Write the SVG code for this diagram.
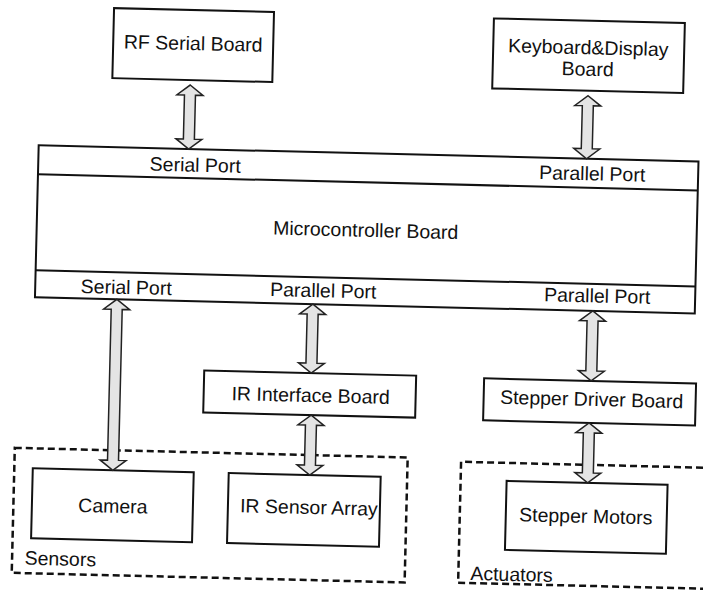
<svg xmlns="http://www.w3.org/2000/svg" width="703" height="592" viewBox="0 0 703 592">
<defs>
<style>
.box{fill:#fff;stroke:#111;stroke-width:2}
.ln{stroke:#111;stroke-width:2;fill:none}
.grp{fill:none;stroke:#111;stroke-width:2.5;stroke-dasharray:7 4}
.arr{fill:#e4e4e4;stroke:#222;stroke-width:1.5;stroke-linejoin:miter}
text{font-family:"Liberation Sans",Arial,sans-serif;font-size:19.5px;fill:#111}
.c{text-anchor:middle}
</style>
</defs>
<rect width="703" height="592" fill="#fff"/>
<g transform="rotate(1.4 350 300)">
  <g id="sensors">
    <rect class="grp" x="18.5" y="456" width="393" height="125"/>
    <text x="31" y="572.5">Sensors</text>
  </g>
  <g id="actuators">
    <path class="grp" d="M740 459 H465 V580 H740"/>
    <text x="477" y="577">Actuators</text>
  </g>
  <g id="rf-serial-board">
    <rect class="box" x="107" y="14" width="160" height="70"/>
    <text class="c" x="187" y="54">RF Serial Board</text>
  </g>
  <g id="keyboard-display-board">
    <rect class="box" x="487" y="15" width="191" height="70"/>
    <text class="c" x="582" y="48.5">Keyboard&amp;Display</text>
    <text class="c" x="582" y="70">Board</text>
  </g>
  <g id="microcontroller-board">
    <rect class="box" x="35" y="153" width="660" height="152"/>
    <line class="ln" x1="35" y1="182" x2="695" y2="182"/>
    <line class="ln" x1="35" y1="278" x2="695" y2="278"/>
    <text class="c" x="192" y="175.5">Serial Port</text>
    <text class="c" x="589" y="174.5">Parallel Port</text>
    <text class="c" x="364" y="236.5">Microcontroller Board</text>
    <text class="c" x="126" y="299.5">Serial Port</text>
    <text class="c" x="323" y="298">Parallel Port</text>
    <text class="c" x="597" y="296.5">Parallel Port</text>
  </g>
  <g id="ir-interface-board">
    <rect class="box" x="206" y="374" width="212" height="42"/>
    <text class="c" x="313" y="403">IR Interface Board</text>
  </g>
  <g id="stepper-driver-board">
    <rect class="box" x="486" y="375" width="212" height="42"/>
    <text class="c" x="594" y="400">Stepper Driver Board</text>
  </g>
  <g id="camera">
    <rect class="box" x="37" y="476" width="161" height="70"/>
    <text class="c" x="118" y="518.5">Camera</text>
  </g>
  <g id="ir-sensor-array">
    <rect class="box" x="233" y="476" width="152" height="70"/>
    <text class="c" x="314" y="515">IR Sensor Array</text>
  </g>
  <g id="stepper-motors">
    <rect class="box" x="511" y="477" width="161" height="69"/>
    <text class="c" x="591" y="517">Stepper Motors</text>
  </g>
  <g id="connectors">
    <polygon class="arr" points="185,89 198,99 190.5,99 190.5,143 198,143 185,153 172,143 179.5,143 179.5,99 172,99"/>
    <polygon class="arr" points="583,90 596,100 588.5,100 588.5,143 596,143 583,153 570,143 577.5,143 577.5,100 570,100"/>
    <polygon class="arr" points="117,305 130,315 122.5,315 122.5,466 130,466 117,476 104,466 111.5,466 111.5,315 104,315"/>
    <polygon class="arr" points="313,305 326,315 318.5,315 318.5,364 326,364 313,374 300,364 307.5,364 307.5,315 300,315"/>
    <polygon class="arr" points="314,416 327,426 319.5,426 319.5,466 327,466 314,476 301,466 308.5,466 308.5,426 301,426"/>
    <polygon class="arr" points="593,305 606,315 598.5,315 598.5,365 606,365 593,375 580,365 587.5,365 587.5,315 580,315"/>
    <polygon class="arr" points="592,417 605,427 597.5,427 597.5,467 605,467 592,477 579,467 586.5,467 586.5,427 579,427"/>
  </g>
</g>
</svg>
